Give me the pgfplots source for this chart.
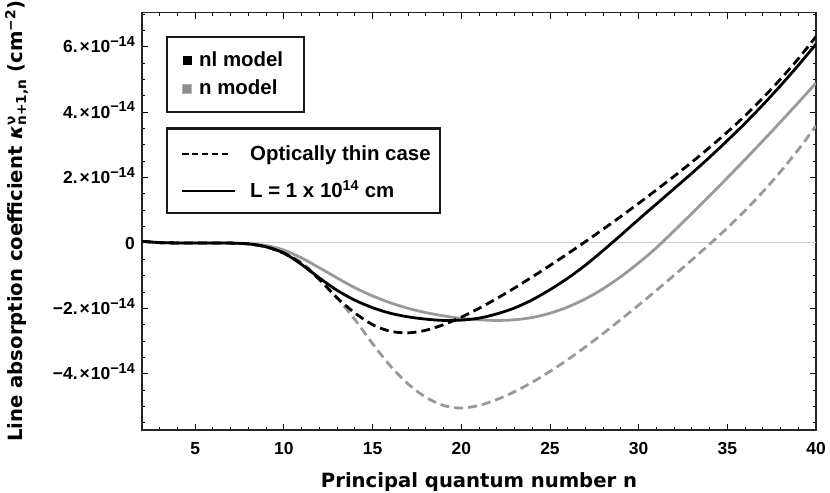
\documentclass[border=0pt]{standalone}
\usepackage{pgfplots}
\pgfplotsset{compat=1.18}
\usepackage{fontspec}
\setmainfont{Liberation Sans}
\newfontfamily\labfont{DejaVu Sans}

\definecolor{curvegray}{RGB}{153,153,153}
\definecolor{zerogray}{RGB}{205,205,205}
\definecolor{boxgray}{RGB}{140,140,140}

% Mathematica style tick label: mantissa x 10^exp
\newcommand{\sci}[2]{#1\hspace{2bp}×\hspace{1bp}10\raisebox{6.5bp}{\fontsize{14.5}{14}\selectfont #2}}

\begin{document}
\begin{tikzpicture}

\begin{axis}[
name=ax,
scale only axis,
width=674bp, height=417.3bp,
xmin=2, xmax=40,
ymin=-5.72, ymax=7.04,
axis line style={line width=1.1bp, black!85},
tick align=inside,
tick pos=both,
xtick={5,10,...,40},
minor xtick={2,3,...,40},
ytick={-4,-2,0,2,4,6},
yticklabels={{\sci{−4.}{−14}},{\sci{−2.}{−14}},0,{\sci{2.}{−14}},{\sci{4.}{−14}},{\sci{6.}{−14}}},
minor ytick={-5.5,-5,...,7},
major tick length=6bp,
minor tick length=3.5bp,
tick style={black, line width=0.9bp},
/pgf/number format/assume math mode=true,
ticklabel style={font=\bfseries\fontsize{17.5}{17}\selectfont, inner sep=0pt},
xticklabel style={anchor=base, yshift=-24bp},
yticklabel style={anchor=base east, xshift=-7bp, yshift=-6.2bp},
xlabel={Principal quantum number n},
ylabel={Line absorption coefficient \textit{κ}\rlap{\textsuperscript{ν}}\textsubscript{n+1,n} (cm\textsuperscript{−2})},
every axis x label/.style={at={([yshift=-57bp]axis description cs:0.5,0)}, anchor=base, inner sep=0pt, font=\labfont\bfseries\fontsize{19.7}{20}\selectfont},
every axis y label/.style={at={([xshift=-119bp]axis description cs:0,0.5)}, rotate=90, anchor=base, inner sep=0pt, font=\labfont\bfseries\fontsize{19.7}{20}\selectfont},
]

\draw[zerogray, line width=1bp] (axis cs:2,0) -- (axis cs:40,0);

% n model, optically thin
\addplot[curvegray, line width=2.8bp, smooth, dash pattern=on 9bp off 5bp] table {
2 0.05
3 0.01
4 0
5 0
6 0
7 -0.005
8 -0.03
9 -0.12
10 -0.3
11 -0.6
12 -1.1
13 -1.68
14 -2.34
15 -3.08
16 -3.76
17 -4.31
18 -4.72
19 -4.97
20 -5.05
21 -4.97
22 -4.79
23 -4.55
24 -4.26
25 -3.93
26 -3.57
27 -3.18
28 -2.77
29 -2.34
30 -1.90
31 -1.45
32 -0.99
33 -0.52
34 -0.04
35 0.46
36 0.99
37 1.56
38 2.18
39 2.85
40 3.58
};
% n model, L = 1e14 cm
\addplot[curvegray, line width=2.8bp, smooth] table {
2 0.05
3 0.01
4 0
5 0
6 0
7 -0.005
8 -0.02
9 -0.08
10 -0.22
11 -0.46
12 -0.76
13 -1.07
14 -1.37
15 -1.62
16 -1.83
17 -2.0
18 -2.13
19 -2.23
20 -2.31
21 -2.35
22 -2.37
23 -2.35
24 -2.28
25 -2.15
26 -1.96
27 -1.71
28 -1.40
29 -1.03
30 -0.61
31 -0.15
32 0.37
33 0.90
34 1.44
35 1.99
36 2.55
37 3.12
38 3.70
39 4.29
40 4.89
};
% nl model, optically thin
\addplot[black, line width=2.8bp, smooth, dash pattern=on 9bp off 5bp] table {
2 0.05
3 0.01
4 0
5 0
6 0
7 -0.005
8 -0.03
9 -0.12
10 -0.32
11 -0.64
12 -1.12
13 -1.68
14 -2.14
15 -2.5
16 -2.7
17 -2.75
18 -2.67
19 -2.50
20 -2.27
21 -2.00
22 -1.70
23 -1.38
24 -1.04
25 -0.69
26 -0.33
27 0.04
28 0.42
29 0.81
30 1.21
31 1.62
32 2.04
33 2.47
34 2.92
35 3.39
36 3.89
37 4.43
38 5.01
39 5.63
40 6.31
};
% nl model, L = 1e14 cm
\addplot[black, line width=2.8bp, smooth] table {
2 0.05
3 0.01
4 0
5 0
6 0
7 -0.005
8 -0.03
9 -0.12
10 -0.31
11 -0.66
12 -1.07
13 -1.45
14 -1.75
15 -1.98
16 -2.15
17 -2.26
18 -2.33
19 -2.37
20 -2.36
21 -2.30
22 -2.17
23 -1.99
24 -1.74
25 -1.43
26 -1.08
27 -0.68
28 -0.23
29 0.24
30 0.72
31 1.19
32 1.66
33 2.13
34 2.62
35 3.13
36 3.66
37 4.22
38 4.81
39 5.43
40 6.08
};
\end{axis}

% legends (two boxes), positions relative to the frame's top left corner
\begin{scope}[shift={(ax.north west)}, x=1bp, y=1bp, font=\bfseries\fontsize{20.5}{21}\selectfont]
\draw[line width=2.4bp, black!90] (25,-24.3) rectangle (162,-99.3);
\fill[black] (40.5,-43.8) rectangle (49.5,-52.8);
\filldraw[fill=boxgray, draw=black!30, line width=0.6bp] (40.5,-71.8) rectangle (49.5,-80.8);
\node[anchor=base west, inner sep=0pt] at (57,-53.6) {nl model};
\node[anchor=base west, inner sep=0pt] at (57,-81.6) {n model};
\draw[line width=2.4bp, black!90] (25,-115.8) rectangle (298,-200.6);
\draw[line width=2bp, dash pattern=on 6.5bp off 3.4bp] (40,-141.3) -- (86,-141.3);
\draw[line width=2bp] (40,-178.3) -- (93,-178.3);
\node[anchor=base west, inner sep=0pt] at (108,-148.3) {Optically thin case};
\node[anchor=base west, inner sep=0pt] at (108,-185.3) {L = 1 x 10\textsuperscript{14} cm};
\end{scope}

\pgfresetboundingbox
\path ([xshift=-142bp,yshift=-63bp]ax.south west) rectangle ([xshift=14bp,yshift=12.7bp]ax.north east);

\end{tikzpicture}
\end{document}
